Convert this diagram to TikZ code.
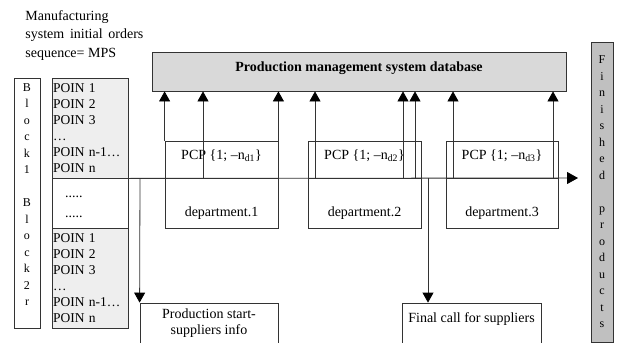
\documentclass[tikz,border=0pt]{standalone}
\usepackage{fontspec}
\setmainfont{Liberation Serif}
\usetikzlibrary{arrows.meta}
\definecolor{dbfill}{HTML}{D9D9D9}
\definecolor{poinfill}{HTML}{EEEEEE}
\definecolor{finfill}{HTML}{C0C0C0}
\definecolor{linecol}{HTML}{333333}

\begin{document}
\begin{tikzpicture}[x=1pt,y=-1pt,line width=.8pt,
    every node/.style={font=\fontsize{14}{16}\selectfont},
    box/.style={draw=linecol,inner sep=1pt},
    arr/.style={draw=linecol,-{Triangle[width=11pt,length=10pt,black]}},
    letters/.style={align=center,font=\fontsize{12}{16.5}\selectfont}]
    \useasboundingbox (0,0) rectangle (617,342);
    \node[anchor=north west,align=left,inner sep=0pt,font=\fontsize{14}{18.5}\selectfont] (mps) at (25,10) {Manufacturing\\\makebox[118pt][s]{system initial orders}\\sequence= MPS};
    % Blocks ================================================
    \node[box,minimum width=26pt,minimum height=250pt,letters] (blk) at (27,203) {B\\l\\o\\c\\k\\1\\[16.5pt]B\\l\\o\\c\\k\\2\\r\\\mbox{}};
    \node[box,fill=poinfill,minimum width=76pt,minimum height=100pt,align=left,text width=74pt,font=\fontsize{13.5}{16}\selectfont] (poinA) at (90,128) {POIN 1\\POIN 2\\POIN 3\\…\\POIN n-1…\\POIN n};
    \node[box,minimum width=76pt,minimum height=50pt,align=left,text width=74pt,font=\fontsize{14}{20}\selectfont] (poinM) at (90,203) {\strut\hspace*{12pt}.....\\\strut\hspace*{12pt}.....};
    \node[box,fill=poinfill,minimum width=76pt,minimum height=100pt,align=left,text width=74pt,font=\fontsize{13.5}{16}\selectfont] (poinB) at (90,278) {POIN 1\\POIN 2\\POIN 3\\…\\POIN n-1…\\POIN n};
    % Database ==============================================
    \node[box,fill=dbfill,minimum width=414pt,minimum height=39pt,text height=0pt,text depth=0pt,font=\bfseries\fontsize{14}{16}\selectfont] (db) at (359,71.5) {Production management system database};
    \node[box,fill=finfill,minimum width=22pt,minimum height=300pt,letters] (fin) at (602,192) {F\\i\\n\\i\\s\\h\\e\\d\\[16.5pt]p\\r\\o\\d\\u\\c\\t\\s};
    % Departments ===========================================
    \node[box,minimum width=113pt,minimum height=37pt,text height=0pt,text depth=0pt] (pcp1)  at (221.5,159.5) {PCP \{1; –n\textsubscript{d1}\}};
    \node[box,minimum width=113pt,minimum height=50pt,text height=27pt,text depth=0pt] (dept1) at (221.5,203)   {department.1};
    \node[box,minimum width=113pt,minimum height=37pt,text height=0pt,text depth=0pt] (pcp2)  at (364.5,159.5) {PCP \{1; –n\textsubscript{d2}\}};
    \node[box,minimum width=113pt,minimum height=50pt,text height=27pt,text depth=0pt] (dept2) at (364.5,203)   {department.2};
    \node[box,minimum width=112pt,minimum height=37pt,text height=0pt,text depth=0pt] (pcp3)  at (502,159.5)   {PCP \{1; –n\textsubscript{d3}\}};
    \node[box,minimum width=112pt,minimum height=50pt,text height=27pt,text depth=0pt] (dept3) at (502,203)     {department.3};
    % Suppliers =============================================
    \node[box,minimum width=138pt,minimum height=40pt,align=center] (prod) at (209,323) {Production start-\\suppliers info};
    \node[box,minimum width=139pt,minimum height=40pt,text height=0pt,text depth=2pt] (final) at (471.5,323) {Final call for suppliers};
    % Flows =================================================
    \coordinate (tip) at (578,178);
    \draw[draw=linecol,-{Triangle[width=12pt,length=11pt,black]}] (poinA.south east) -- (tip);
    \coordinate (u1) at (203,178); \coordinate (u2) at (315,178);
    \coordinate (u3) at (403,178); \coordinate (u4) at (415,178);
    \coordinate (u5) at (453,178); \coordinate (u6) at (553,178);
    \draw[arr] (pcp1.north west) -- (pcp1.north west |- db.south);
    \draw[arr] (pcp1.north east) -- (pcp1.north east |- db.south);
    \draw[arr] (u1) -- (u1 |- db.south);
    \draw[arr] (u2) -- (u2 |- db.south);
    \draw[arr] (u3) -- (u3 |- db.south);
    \draw[arr] (u4) -- (u4 |- db.south);
    \draw[arr] (u5) -- (u5 |- db.south);
    \draw[arr] (u6) -- (u6 |- db.south);
    \coordinate (d1) at (140,178); \coordinate (d2) at (428,178);
    \draw[arr] (d1) -- (prod.north west);
    \draw[arr] (d2) -- (d2 |- final.north);
\end{tikzpicture}
\end{document}
